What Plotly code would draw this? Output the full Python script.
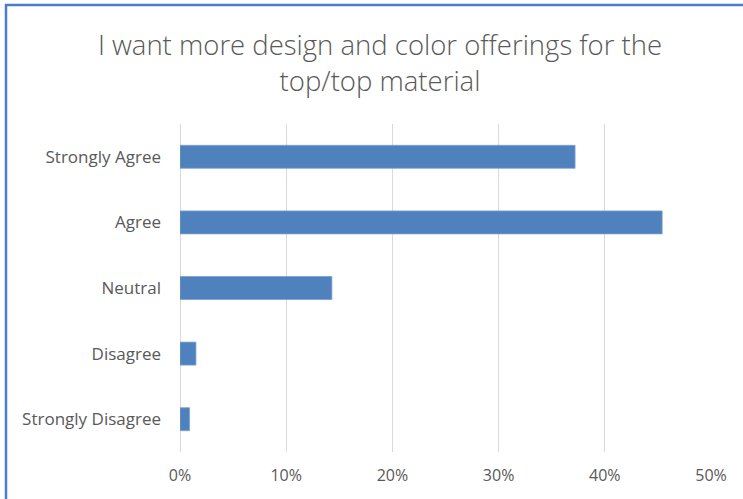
import plotly.graph_objects as go

categories = ["Strongly Agree", "Agree", "Neutral", "Disagree", "Strongly Disagree"]
values = [0.372, 0.454, 0.143, 0.015, 0.009]
tick_vals = [0, 0.1, 0.2, 0.3, 0.4, 0.5]
tick_text = ["0%", "10%", "20%", "30%", "40%", "50%"]
title_text = "I want more design and color offerings for the<br>top/top material"

W, H = 743, 499
L, R, T, B = 180, 32, 124, 47
pw, ph = W - L - R, H - T - B

def px_to_paper_x(px):
    return (px - L) / pw

def px_to_paper_y(py):
    return 1 - (py - T) / ph

fig = go.Figure(
    go.Bar(
        x=values,
        y=categories,
        orientation="h",
        marker=dict(color="#4F81BD", line=dict(color="#7BA0D0", width=0.8)),
        hoverinfo="skip",
    )
)

border_color = "#4A7EC8"
fig.add_shape(type="line", xref="paper", yref="paper",
              x0=px_to_paper_x(6), x1=px_to_paper_x(6),
              y0=px_to_paper_y(4), y1=px_to_paper_y(H + 5),
              line=dict(color=border_color, width=2.5))
fig.add_shape(type="line", xref="paper", yref="paper",
              x0=px_to_paper_x(5), x1=px_to_paper_x(W + 5),
              y0=px_to_paper_y(5), y1=px_to_paper_y(5),
              line=dict(color=border_color, width=2.5))

fig.update_layout(
    width=W, height=H,
    margin=dict(l=L, r=R, t=T, b=B),
    paper_bgcolor="white",
    plot_bgcolor="white",
    bargap=0.65,
    showlegend=False,
    font=dict(family="Open Sans", color="#595959"),
    title=dict(
        text=title_text,
        x=380 / W, xref="container", xanchor="center",
        y=1 - 55 / H, yref="container", yanchor="middle",
        font=dict(size=27.5, color="#595959", family="Open Sans", weight=300),
    ),
    xaxis=dict(
        range=[0, 0.5],
        tickvals=tick_vals,
        ticktext=tick_text,
        showgrid=True,
        gridcolor="#D9D9D9",
        gridwidth=1,
        zeroline=True,
        zerolinecolor="#D9D9D9",
        zerolinewidth=1,
        showline=False,
        ticks="",
        tickfont=dict(size=16, color="#595959"),
        ticklabelstandoff=12,
        fixedrange=True,
    ),
    yaxis=dict(
        categoryorder="array",
        categoryarray=categories[::-1],
        showgrid=False,
        showline=False,
        ticks="",
        tickfont=dict(size=17, color="#595959"),
        ticklabelstandoff=18,
        fixedrange=True,
    ),
)

fig.write_html("out.html")
